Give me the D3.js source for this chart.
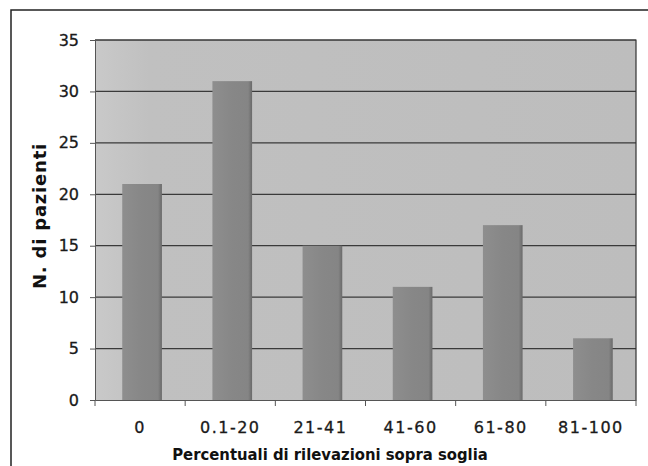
<!DOCTYPE html>
<html><head><meta charset="utf-8">
<script src="https://cdn.jsdelivr.net/npm/d3@7"></script>
<style>body{margin:0;background:#fff}svg{display:block}</style>
</head><body>
<script>
const categories = ["0","0.1-20","21-41","41-60","61-80","81-100"];
const values = [21,31,15,11,17,6];
const yTicks = [0,5,10,15,20,25,30,35];
const xTitle = "Percentuali di rilevazioni sopra soglia";
const yTitle = "N. di pazienti";

const W=648,H=466;
const m={l:95,r:12,t:40,b:66};
const FF="DejaVu Sans, Verdana, sans-serif";
const svg=d3.select("body").append("svg").attr("width",W).attr("height",H);
const defs=svg.append("defs");
const bg=defs.append("linearGradient").attr("id","bg").attr("x1",0).attr("x2",1).attr("y1",0).attr("y2",0);
bg.append("stop").attr("offset",0).attr("stop-color","#c9c9c9");
bg.append("stop").attr("offset",0.1).attr("stop-color","#c0c0c0");
bg.append("stop").attr("offset",1).attr("stop-color","#bdbdbd");
const bar=defs.append("linearGradient").attr("id","bar").attr("x1",0).attr("x2",1).attr("y1",0).attr("y2",0);
bar.append("stop").attr("offset",0).attr("stop-color","#8e8e8e");
bar.append("stop").attr("offset",0.5).attr("stop-color","#878787");
bar.append("stop").attr("offset",0.9).attr("stop-color","#858585");
bar.append("stop").attr("offset",1).attr("stop-color","#6a6a6a");

// outer frame
svg.append("rect").attr("x",11).attr("y",10).attr("width",W).attr("height",H)
  .attr("fill","none").attr("stroke","#222").attr("stroke-width",1.5);

const x=d3.scaleBand().domain(categories).range([m.l,W-m.r]).paddingInner(0.56).paddingOuter(0.28);
const y=d3.scaleLinear().domain([0,35]).range([H-m.b,m.t]);
const px0=m.l, px1=W-m.r;

svg.append("rect").attr("x",px0).attr("y",m.t).attr("width",px1-px0).attr("height",y(0)-m.t).attr("fill","url(#bg)");

// gridlines
svg.append("g").selectAll("line").data(yTicks.filter(d=>d>0)).join("line")
  .attr("x1",px0).attr("x2",px1).attr("y1",d=>y(d)).attr("y2",d=>y(d))
  .attr("stroke","#3a3a3a").attr("stroke-width",1.2);

// bars
svg.append("g").selectAll("rect").data(values).join("rect")
  .attr("x",(d,i)=>x(categories[i])+2).attr("width",x.bandwidth())
  .attr("y",d=>y(d)).attr("height",d=>y(0)-y(d))
  .attr("fill","url(#bar)");

// plot border (top/right)
svg.append("path").attr("d",`M${px0},${m.t}H${px1}V${y(0)}`).attr("fill","none").attr("stroke","#333").attr("stroke-width",1.2);

// y axis
const ya=svg.append("g").attr("transform",`translate(${px0},0)`)
  .call(d3.axisLeft(y).tickValues(yTicks).tickSize(5).tickPadding(11));
ya.select(".domain").attr("stroke","#555");
ya.selectAll(".tick line").attr("stroke","#555");
ya.selectAll("text").attr("font-family",FF).attr("font-size",16).attr("fill","#1a1a1a")
  .attr("stroke","#1a1a1a").attr("stroke-width",0.3);

// x axis
const xa=svg.append("g").attr("transform",`translate(0,${y(0)})`)
  .call(d3.axisBottom(x).tickSize(0).tickPadding(22));
xa.select(".domain").attr("stroke","#555");
xa.selectAll("text").attr("font-family",FF).attr("font-size",16).attr("letter-spacing","1.5px").attr("fill","#1a1a1a")
  .attr("stroke","#1a1a1a").attr("stroke-width",0.3);
// boundary ticks
const bounds=d3.range(categories.length+1).map(i=>px0+i*(px1-px0)/categories.length);
svg.append("g").selectAll("line").data(bounds).join("line")
  .attr("x1",d=>d).attr("x2",d=>d).attr("y1",y(0)).attr("y2",y(0)+6)
  .attr("stroke","#555");

svg.append("text").attr("transform","translate(330,460) scale(0.9,1)").attr("text-anchor","middle")
  .attr("font-family",FF).attr("font-weight","bold").attr("font-size",16.5).attr("fill","#111")
  .text(xTitle);
svg.append("text").attr("transform",`translate(46,216) rotate(-90)`).attr("text-anchor","middle")
  .attr("font-family",FF).attr("font-weight","bold").attr("font-size",18).attr("letter-spacing","0.8px").attr("fill","#111")
  .text(yTitle);
</script>
</body></html>
